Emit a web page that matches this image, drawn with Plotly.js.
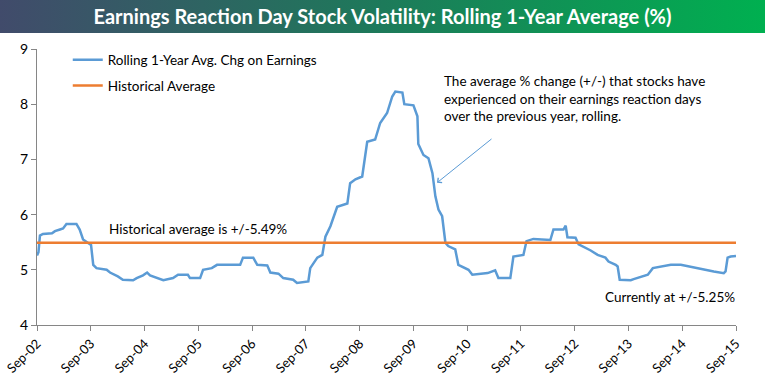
<!DOCTYPE html>
<html>
<head>
<meta charset="utf-8">
<script src="https://cdn.plot.ly/plotly-3.0.1.min.js"></script>
<style>
  html, body { margin: 0; padding: 0; background: #ffffff; }
  #wrap { position: relative; width: 765px; height: 385px; }
  #band { position: absolute; left: 0; top: 0; width: 765px; height: 33px;
          background: linear-gradient(to right, #414b6b 0%, #1d7a5a 50%, #00b050 100%); }
  #chart { position: absolute; left: 0; top: 0; width: 765px; height: 385px; }
</style>
</head>
<body>
<div id="wrap">
  <div id="band"></div>
  <div id="chart"></div>
</div>
<script>
// ---- data ----
const dates = [
  '2002-09-01','2002-09-11','2002-09-21','2002-10-11','2002-12-12','2003-01-01','2003-02-04','2003-02-25',
  '2003-03-20','2003-05-27','2003-06-18','2003-07-11','2003-08-12','2003-09-03','2003-09-18','2003-10-10',
  '2003-12-18','2004-01-10','2004-03-03','2004-04-06','2004-06-15','2004-07-09','2004-08-21','2004-09-18',
  '2004-10-08','2004-11-23','2005-01-06','2005-03-13','2005-04-16','2005-06-22','2005-07-06','2005-09-13',
  '2005-10-03','2005-12-01','2006-01-06','2006-04-04','2006-06-12','2006-07-01','2006-09-09','2006-10-06',
  '2006-12-13','2007-01-03','2007-02-27','2007-04-01','2007-06-07','2007-07-03','2007-09-18','2007-10-01',
  '2007-11-18','2007-12-22','2008-01-12','2008-02-15','2008-04-01','2008-06-09','2008-06-28','2008-08-03',
  '2008-09-18','2008-10-22','2008-12-15','2009-01-18','2009-03-06','2009-04-10','2009-05-01','2009-06-18',
  '2009-07-01','2009-09-01','2009-09-28','2009-10-04','2009-11-08','2009-12-12','2010-01-08','2010-01-28',
  '2010-02-18','2010-03-15','2010-04-06','2010-04-25','2010-06-12','2010-07-03','2010-09-10','2010-10-06',
  '2011-01-18','2011-03-10','2011-04-01','2011-06-21','2011-07-12','2011-09-18','2011-10-09','2011-11-25',
  '2012-03-19','2012-04-09','2012-06-16','2012-07-01','2012-07-13','2012-09-06','2012-09-27','2012-12-18',
  '2013-02-03','2013-03-28','2013-04-18','2013-06-06','2013-06-19','2013-07-03','2013-09-16','2013-10-06',
  '2013-12-13','2014-01-10','2014-02-13','2014-04-06','2014-06-15','2014-08-22','2014-10-29','2015-01-25',
  '2015-04-03','2015-06-10','2015-06-22','2015-07-06','2015-07-27','2015-09-01'
];
const rollingAvg = [
  5.26,5.32,5.62,5.65,5.66,5.70,5.73,5.75,
  5.83,5.83,5.73,5.55,5.49,5.45,5.09,5.03,
  5.00,4.95,4.88,4.82,4.81,4.85,4.90,4.95,
  4.90,4.85,4.81,4.85,4.91,4.91,4.85,4.85,
  5.00,5.03,5.09,5.09,5.09,5.22,5.22,5.09,
  5.08,4.95,4.93,4.85,4.82,4.76,4.79,5.03,
  5.22,5.27,5.60,5.79,6.14,6.20,6.57,6.64,
  6.69,7.32,7.36,7.66,7.84,8.14,8.23,8.21,
  8.00,7.98,7.78,7.28,7.08,7.02,6.75,6.33,
  6.09,5.97,5.49,5.43,5.37,5.09,5.00,4.91,
  4.94,4.99,4.85,4.85,5.24,5.27,5.52,5.56,
  5.54,5.73,5.73,5.80,5.59,5.58,5.46,5.35,
  5.27,5.22,5.15,5.09,5.06,4.82,4.81,4.83,
  4.88,4.91,5.03,5.06,5.09,5.09,5.05,5.00,
  4.97,4.94,4.97,5.22,5.24,5.25
];
const histDates = ['2002-09-01','2015-09-01'];
const histAvg = [5.49, 5.49];
const tickDates = ['2002-09-01','2003-09-01','2004-09-01','2005-09-01','2006-09-01','2007-09-01','2008-09-01',
  '2009-09-01','2010-09-01','2011-09-01','2012-09-01','2013-09-01','2014-09-01','2015-09-01'];
const tickLabels = ['Sep-02','Sep-03','Sep-04','Sep-05','Sep-06','Sep-07','Sep-08',
  'Sep-09','Sep-10','Sep-11','Sep-12','Sep-13','Sep-14','Sep-15'];
const seriesNames = ['Rolling 1-Year Avg. Chg on Earnings','Historical Average'];
const titleText = 'Earnings Reaction Day Stock Volatility: Rolling 1-Year Average (%)';
const noteHist = 'Historical average is +/-5.49%';
const noteExplain = 'The average % change (+/-) that stocks have<br>experienced on their earnings reaction days<br>over the previous year, rolling.';
const noteCurrent = 'Currently at +/-5.25%';

const FONT = 'Lato, "Open Sans", sans-serif';
const BLUE = '#5b9bd5';
const ORANGE = '#ed7d31';
const AXIS = '#868686';

const traces = [
  { x: dates, y: rollingAvg, type: 'scatter', mode: 'lines', name: seriesNames[0],
    legendgroup: 'a', line: { color: BLUE, width: 2.5 } },
  { x: histDates, y: histAvg, type: 'scatter', mode: 'lines', name: seriesNames[1],
    legendgroup: 'b', line: { color: ORANGE, width: 2.5 } }
];

const layout = {
  width: 765, height: 385,
  margin: { l: 37, r: 29, t: 49, b: 60 },
  paper_bgcolor: 'rgba(0,0,0,0)',
  plot_bgcolor: 'rgba(0,0,0,0)',
  font: { family: FONT, size: 13.5, color: '#000000' },
  title: { text: titleText, x: 0.5, xanchor: 'center', y: 1 - 17/385, yanchor: 'middle',
           font: { family: FONT, size: 20, color: '#ffffff', weight: 'bold' } },
  showlegend: true,
  legend: { x: 0.044, y: 1.016, xanchor: 'left', yanchor: 'top', bgcolor: 'rgba(0,0,0,0)',
            traceorder: 'grouped', tracegroupgap: 5, font: { family: FONT, size: 13.5, color: '#000' } },
  xaxis: {
    type: 'date', range: ['2002-09-01','2015-09-01'],
    tickmode: 'array', tickvals: tickDates, ticktext: tickLabels, tickangle: -45,
    showgrid: false, zeroline: false, showline: true, linecolor: AXIS, linewidth: 1,
    ticks: 'outside', ticklen: 5, tickcolor: AXIS, tickfont: { family: FONT, size: 13, color: '#000' }
  },
  yaxis: {
    range: [4, 9], dtick: 1, tick0: 4,
    showgrid: false, zeroline: false, showline: true, linecolor: AXIS, linewidth: 1,
    ticks: 'outside', ticklen: 5, tickcolor: AXIS, tickfont: { family: FONT, size: 14, color: '#000' }
  },
  annotations: [
    { xref: 'paper', yref: 'paper', x: (107-37)/699, y: (325.5-229)/276.5, xanchor: 'left', yanchor: 'middle',
      text: noteHist, showarrow: false, font: { family: FONT, size: 13.5, color: '#000' } },
    { xref: 'paper', yref: 'paper', x: (442-37)/699, y: (325.5-71)/276.5, xanchor: 'left', yanchor: 'top',
      align: 'left', text: noteExplain, showarrow: false, font: { family: FONT, size: 13.5, color: '#000' } },
    { xref: 'paper', yref: 'paper', x: (737-37)/699, y: (325.5-297)/276.5, xanchor: 'right', yanchor: 'middle',
      text: noteCurrent, showarrow: false, font: { family: FONT, size: 13.5, color: '#000' } },
    { xref: 'paper', yref: 'paper', x: (437-37)/699, y: (325.5-183)/276.5, text: '',
      showarrow: true, axref: 'pixel', ayref: 'pixel', ax: 56, ay: -45,
      arrowhead: 4, arrowsize: 1.2, arrowwidth: 1, arrowcolor: BLUE }
  ]
};

Plotly.newPlot('chart', traces, layout, { displayModeBar: false, staticPlot: true });
</script>
</body>
</html>
